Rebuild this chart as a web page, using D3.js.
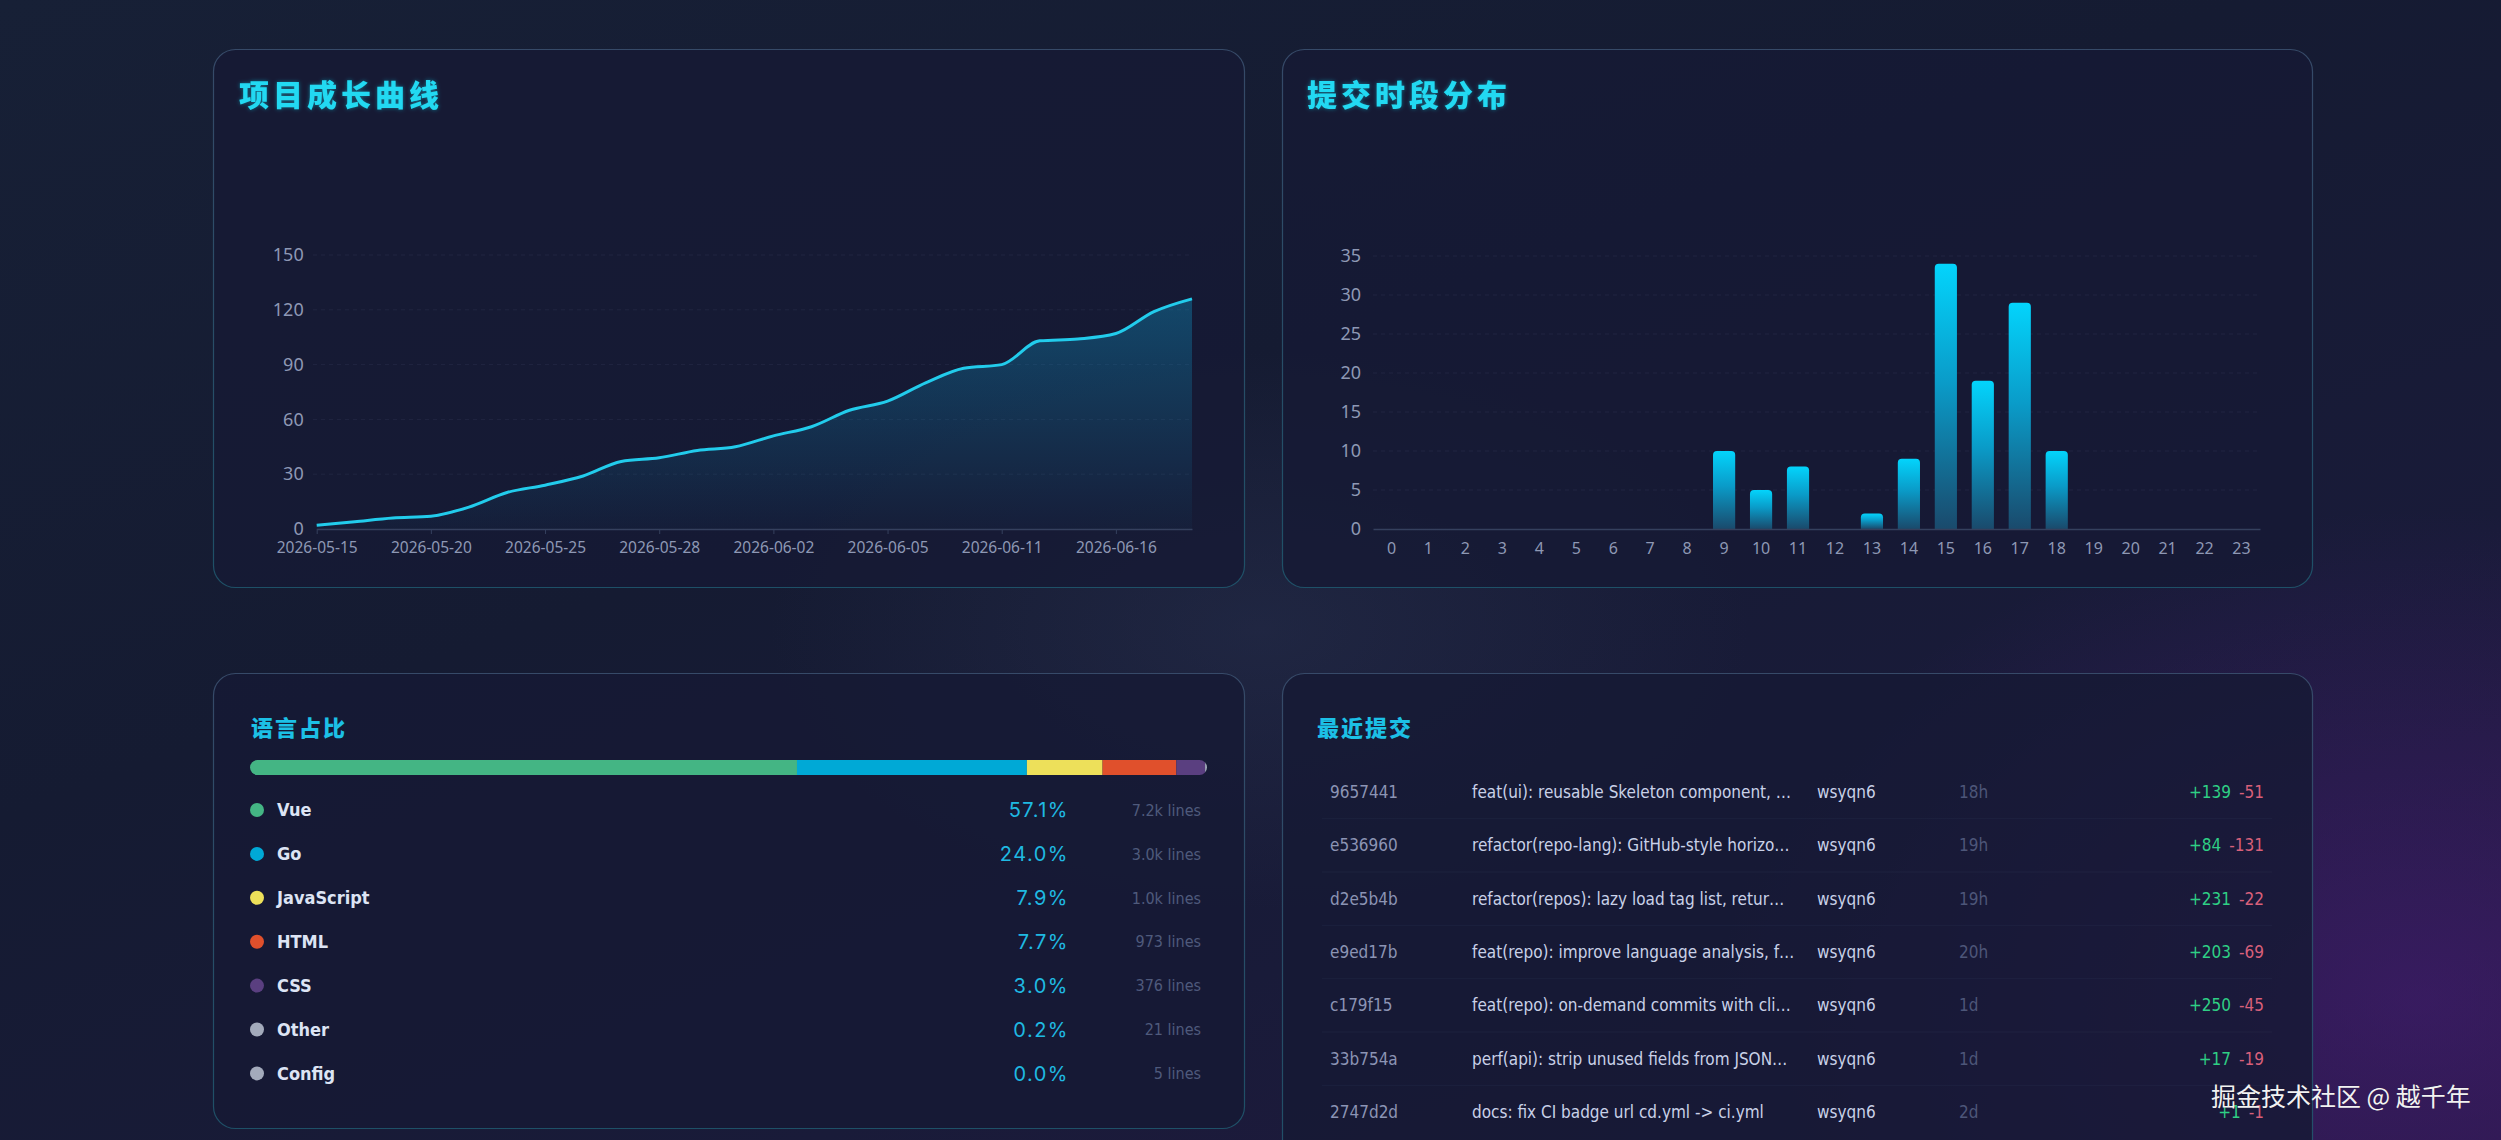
<!DOCTYPE html>
<html><head><meta charset="utf-8">
<script src="https://cdn.jsdelivr.net/npm/d3@7"></script>
<style>
html,body{margin:0;padding:0;width:2501px;height:1140px;overflow:hidden;}
body{background:
 radial-gradient(ellipse 1000px 700px at 2420px 1000px, rgba(80,30,130,0.5), rgba(80,30,130,0) 70%),
 radial-gradient(ellipse 700px 400px at 1260px 630px, rgba(45,55,85,0.4), rgba(0,0,0,0) 70%),
 linear-gradient(160deg,#172036 0%, #151b32 40%, #191b39 70%, #22183f 100%);}
svg{position:absolute;left:0;top:0;}
</style></head><body><svg id="c" width="2501" height="1140"></svg>
<script>
// ---------- data ----------
const growthDates = ["2026-05-15","2026-05-17","2026-05-19","2026-05-20","2026-05-21","2026-05-22","2026-05-25","2026-05-26","2026-05-27","2026-05-28","2026-05-30","2026-06-01","2026-06-02","2026-06-03","2026-06-04","2026-06-05","2026-06-08","2026-06-09","2026-06-11","2026-06-12","2026-06-15","2026-06-16","2026-06-17","2026-06-18"];
const growthValues = [2,4,6,7,12,20,24,29,37,39,43,45,51,56,65,70,80,88,90,103,104,107,119,126];
const growthTicks = [0,30,60,90,120,150];
const growthLabelDates = ["2026-05-15","2026-05-20","2026-05-25","2026-05-28","2026-06-02","2026-06-05","2026-06-11","2026-06-16"];

const hours = [0,1,2,3,4,5,6,7,8,9,10,11,12,13,14,15,16,17,18,19,20,21,22,23];
const hourCommits = [0,0,0,0,0,0,0,0,0,10,5,8,0,2,9,34,19,29,10,0,0,0,0,0];
const hourTicks = [0,5,10,15,20,25,30,35];

const languages = ["Vue","Go","JavaScript","HTML","CSS","Other","Config"];
const langPercent = [57.1,24.0,7.9,7.7,3.0,0.2,0.0];
const langLines = ["7.2k","3.0k","1.0k","973","376","21","5"];
const langColors = ["#44b584","#00a9d6","#ede05a","#e0502c","#5a3f80","#a3aabb","#a3aabb"];

const commitHashes = ["9657441","e536960","d2e5b4b","e9ed17b","c179f15","33b754a","2747d2d"];
const commitMessages = ["feat(ui): reusable Skeleton component, …","refactor(repo-lang): GitHub-style horizo…","refactor(repos): lazy load tag list, retur…","feat(repo): improve language analysis, f…","feat(repo): on-demand commits with cli…","perf(api): strip unused fields from JSON…","docs: fix CI badge url cd.yml -> ci.yml"];
const commitAuthors = ["wsyqn6","wsyqn6","wsyqn6","wsyqn6","wsyqn6","wsyqn6","wsyqn6"];
const commitTimes = ["18h","19h","19h","20h","1d","1d","2d"];
const commitAdds = [139,84,231,203,250,17,1];
const commitDels = [51,131,22,69,45,19,1];

const titles = ["项目成长曲线","提交时段分布","语言占比","最近提交"];
const watermark = "掘金技术社区 @ 越千年";

// ---------- drawing ----------
const svg = d3.select("#c");
const defs = svg.append("defs");
const CJK = "'Noto Sans CJK SC','Noto Sans',sans-serif";
const AX = "'Noto Sans','Open Sans',sans-serif";
const COND = "'DejaVu Sans Condensed','DejaVu Sans',sans-serif";

const cards = [
  {x:213,y:49,w:1031,h:538},
  {x:1282,y:49,w:1030,h:538},
  {x:213,y:673,w:1031,h:455},
  {x:1282,y:673,w:1030,h:540}
];
const cg = defs.append("linearGradient").attr("id","cardStroke").attr("x1",0).attr("y1",0).attr("x2",0).attr("y2",1);
cg.append("stop").attr("offset",0).attr("stop-color","#3a4f6e").attr("stop-opacity",0.9);
cg.append("stop").attr("offset",1).attr("stop-color","#1f5a70").attr("stop-opacity",0.85);
svg.selectAll("rect.card").data(cards).join("rect").attr("class","card")
  .attr("x",d=>d.x+0.5).attr("y",d=>d.y+0.5).attr("width",d=>d.w).attr("height",d=>d.h)
  .attr("rx",22).attr("fill","rgba(22,26,52,0.82)").attr("stroke","url(#cardStroke)").attr("stroke-width",1.2);

// soft glow filter for titles
const gf = defs.append("filter").attr("id","glow").attr("x","-20%").attr("y","-40%").attr("width","140%").attr("height","180%");
gf.append("feGaussianBlur").attr("stdDeviation",2).attr("result","b");
gf.append("feComponentTransfer").attr("in","b").attr("result","b2").append("feFuncA").attr("type","linear").attr("slope",0.45);
const fm = gf.append("feMerge"); fm.append("feMergeNode").attr("in","b2"); fm.append("feMergeNode").attr("in","SourceGraphic");

// titles
[[0,239,106],[1,1307,106]].forEach(([i,x,y])=>{
  svg.append("text").attr("x",x).attr("y",y).text(titles[i])
    .attr("font-family",CJK).attr("font-size",30).attr("font-weight",900).attr("letter-spacing",4).attr("fill","#20d9f2").attr("filter","url(#glow)");
});
[[2,251,736],[3,1317,736]].forEach(([i,x,y])=>{
  svg.append("text").attr("x",x).attr("y",y).text(titles[i])
    .attr("font-family",CJK).attr("font-size",22).attr("font-weight",900).attr("letter-spacing",2).attr("fill","#1cc0e6");
});

// ---------- line chart ----------
{
  const x = d3.scalePoint().domain(growthDates).range([316.7,1192]);
  const y = d3.scaleLinear().domain([0,150]).range([529,255]);
  const g = svg.append("g");
  g.selectAll("line.grid").data(growthTicks.filter(t=>t>0)).join("line")
    .attr("x1",313).attr("x2",1192).attr("y1",d=>y(d)).attr("y2",d=>y(d))
    .attr("stroke","rgba(140,160,200,0.09)").attr("stroke-dasharray","4,4");
  const ag = defs.append("linearGradient").attr("id","areaG").attr("gradientUnits","userSpaceOnUse")
    .attr("x1",0).attr("y1",y(130)).attr("x2",0).attr("y2",y(0));
  ag.append("stop").attr("offset",0).attr("stop-color","#0ea5d8").attr("stop-opacity",0.34);
  ag.append("stop").attr("offset",1).attr("stop-color","#0ea5d8").attr("stop-opacity",0.03);
  const pts = growthDates.map((d,i)=>[d,growthValues[i]]);
  g.append("path").datum(pts).attr("fill","url(#areaG)")
    .attr("d",d3.area().x(d=>x(d[0])).y0(y(0)).y1(d=>y(d[1])).curve(d3.curveMonotoneX));
  const ax = g.append("g").attr("transform",`translate(0,${y(0)})`)
    .call(d3.axisBottom(x).tickValues(growthLabelDates).tickSize(5).tickSizeOuter(0));
  ax.select(".domain").attr("stroke","#35405e").attr("stroke-width",1.5);
  ax.selectAll(".tick line").attr("stroke","#35405e");
  ax.selectAll(".tick text").attr("y",19).attr("dy","0.35em").attr("font-family",AX).attr("font-size",15.5).attr("fill","#8e98b4");
  const ay = g.append("g").attr("transform","translate(316.7,0)")
    .call(d3.axisLeft(y).tickValues(growthTicks).tickSize(0).tickPadding(13));
  ay.select(".domain").remove();
  ay.selectAll(".tick text").attr("font-family",AX).attr("font-size",18).attr("fill","#8e98b4");
  g.append("path").datum(pts).attr("fill","none").attr("stroke","#22ccec").attr("stroke-width",3)
    .attr("d",d3.line().x(d=>x(d[0])).y(d=>y(d[1])).curve(d3.curveMonotoneX));
}

// ---------- bar chart ----------
{
  const x = d3.scaleBand().domain(hours).range([1373,2260]).paddingInner(0.4).paddingOuter(0.2);
  const y = d3.scaleLinear().domain([0,35]).range([529,256]);
  const g = svg.append("g");
  g.selectAll("line.grid").data(hourTicks.filter(t=>t>0)).join("line")
    .attr("x1",1373).attr("x2",2260).attr("y1",d=>y(d)).attr("y2",d=>y(d))
    .attr("stroke","rgba(140,160,200,0.09)").attr("stroke-dasharray","4,4");
  const bg = defs.append("linearGradient").attr("id","barG").attr("x1",0).attr("y1",0).attr("x2",0).attr("y2",1);
  bg.append("stop").attr("offset",0).attr("stop-color","#03d4fc");
  bg.append("stop").attr("offset",0.45).attr("stop-color","#0a9bc8");
  bg.append("stop").attr("offset",1).attr("stop-color","#1a4a6c");
  const r = 4;
  g.selectAll("path.bar").data(hours.map((h,i)=>({h,v:hourCommits[i]})).filter(d=>d.v>0)).join("path")
    .attr("fill","url(#barG)")
    .attr("d",d=>{
      const x0=x(d.h), w=x.bandwidth(), y0=y(d.v), y1=y(0);
      return `M${x0},${y1}V${y0+r}Q${x0},${y0} ${x0+r},${y0}H${x0+w-r}Q${x0+w},${y0} ${x0+w},${y0+r}V${y1}Z`;
    });
  const ax = g.append("g").attr("transform",`translate(0,${y(0)})`)
    .call(d3.axisBottom(x).tickSize(0).tickSizeOuter(0));
  ax.select(".domain").attr("stroke","#35405e").attr("stroke-width",1.5);
  ax.selectAll(".tick text").attr("y",19).attr("dy","0.35em").attr("font-family",AX).attr("font-size",16).attr("fill","#8e98b4");
  const ay = g.append("g").attr("transform","translate(1373,0)")
    .call(d3.axisLeft(y).tickValues(hourTicks).tickSize(0).tickPadding(12));
  ay.select(".domain").remove();
  ay.selectAll(".tick text").attr("font-family",AX).attr("font-size",18).attr("fill","#8e98b4");
}

// ---------- language card ----------
{
  const total = d3.sum(langPercent);
  const x = d3.scaleLinear().domain([0,total]).range([250,1207]);
  const cum = d3.cumsum(langPercent);
  const segs = languages.map((l,i)=>({l,c:langColors[i],a:i?cum[i-1]:0,b:cum[i]}));
  defs.append("clipPath").attr("id","barClip").append("rect").attr("x",250).attr("y",760).attr("width",957).attr("height",15).attr("rx",7.5);
  svg.append("g").attr("clip-path","url(#barClip)").selectAll("rect").data(segs).join("rect")
    .attr("x",d=>x(d.a)).attr("width",d=>Math.max(0,x(d.b)-x(d.a))).attr("y",760).attr("height",15).attr("fill",d=>d.c);
  const rowY = d3.scalePoint().domain(languages).range([810,810+43.9*6]);
  const rows = svg.append("g").selectAll("g").data(languages).join("g").attr("transform",d=>`translate(0,${rowY(d)})`);
  rows.append("circle").attr("cx",257).attr("cy",0).attr("r",7).attr("fill",(d,i)=>langColors[i]);
  rows.append("text").attr("x",277).attr("dy","0.36em").text(d=>d)
    .attr("font-family",COND).attr("font-stretch","condensed").attr("font-weight",700).attr("font-size",18).attr("fill","#dde4f4");
  rows.append("text").attr("x",1069).attr("dy","0.36em").attr("text-anchor","end").text((d,i)=>langPercent[i].toFixed(1)+"%")
    .attr("font-family","Inter,sans-serif").attr("font-size",20).attr("letter-spacing",1.5).attr("fill","#1fb9e2");
  rows.append("text").attr("x",1201).attr("dy","0.36em").attr("text-anchor","end").text((d,i)=>langLines[i]+" lines")
    .attr("font-family",COND).attr("font-stretch","condensed").attr("font-size",16).attr("fill","#4f5a7c");
}

// ---------- commits card ----------
{
  const idx = d3.range(commitHashes.length);
  const rowY = d3.scaleLinear().domain([0,6]).range([792,1112]);
  const g = svg.append("g");
  g.selectAll("line").data(idx.slice(0,-1)).join("line")
    .attr("x1",1322).attr("x2",2272).attr("y1",d=>rowY(d+0.5)).attr("y2",d=>rowY(d+0.5))
    .attr("stroke","rgba(120,140,190,0.07)");
  const rows = g.selectAll("g.row").data(idx).join("g").attr("class","row").attr("transform",i=>`translate(0,${rowY(i)})`);
  const common = s=>s.attr("dy","0.36em").attr("font-family",COND).attr("font-stretch","condensed").attr("font-size",17);
  rows.append("text").attr("x",1330).text(i=>commitHashes[i]).call(common).attr("fill","#8c94b4");
  rows.append("text").attr("x",1472).text(i=>commitMessages[i]).call(common).attr("fill","#c9d1e8");
  rows.append("text").attr("x",1817).text(i=>commitAuthors[i]).call(common).attr("fill","#c9d1e8");
  rows.append("text").attr("x",1959).text(i=>commitTimes[i]).call(common).attr("fill","#4d5679");
  rows.append("text").attr("x",2264).attr("text-anchor","end").text(i=>"-"+commitDels[i]).call(common).attr("fill","#d8607a");
  rows.each(function(i){
    const w = d3.select(this).select("text:last-child").node().getComputedTextLength();
    d3.select(this).append("text").attr("x",2264-w-8).attr("text-anchor","end").text("+"+commitAdds[i]).call(common).attr("fill","#2fcf85");
  });
}

// watermark (as in the reference, lying over the last row)
svg.append("text").attr("x",2211).attr("y",1106).text(watermark)
  .attr("font-family",CJK).attr("font-size",25).attr("fill","#f2f2f2").attr("stroke","rgba(0,0,0,0.35)").attr("stroke-width",0.6)
  .style("paint-order","stroke");
</script></body></html>
